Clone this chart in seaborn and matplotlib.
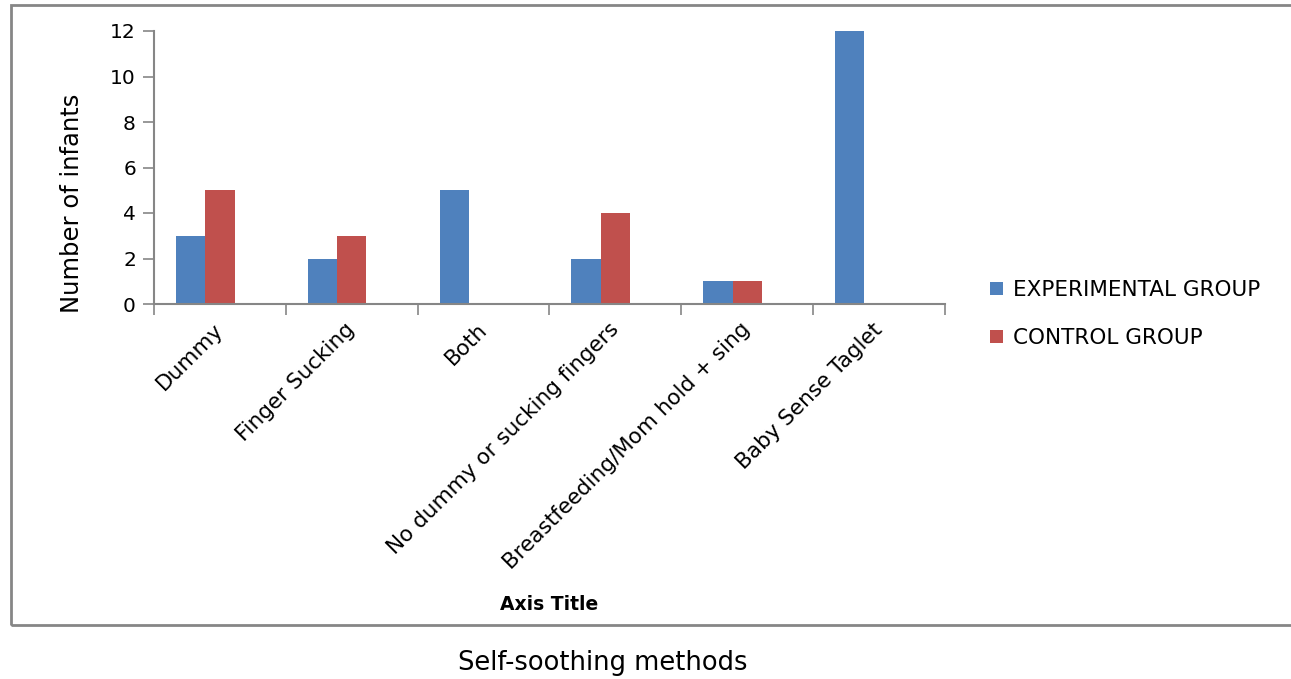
import numpy as np
import pandas as pd
import matplotlib
matplotlib.use("Agg")
import matplotlib.pyplot as plt
from matplotlib.patches import Patch, Rectangle
import seaborn as sns

categories = ["Dummy", "Finger Sucking", "Both", "No dummy or sucking fingers",
              "Breastfeeding/Mom hold + sing", "Baby Sense Taglet"]
experimental = [3, 2, 5, 2, 1, 12]
control = [5, 3, 0, 4, 1, 0]
series_names = ["EXPERIMENTAL GROUP", "CONTROL GROUP"]
y_ticks = [0, 2, 4, 6, 8, 10, 12]

blue = "#4F81BD"
red = "#C0504D"
axis_grey = "#868686"

sns.set_theme(style="white")
plt.rcParams["font.family"] = ["DejaVu Sans"]
plt.rcParams["text.color"] = "black"
plt.rcParams["xtick.color"] = "black"
plt.rcParams["ytick.color"] = "black"
plt.rcParams["axes.labelcolor"] = "black"

df = pd.DataFrame({
    "method": categories * 2,
    "group": [series_names[0]] * len(categories) + [series_names[1]] * len(categories),
    "count": experimental + control,
})

fig = plt.figure(figsize=(12.91, 6.79), dpi=100)
ax = fig.add_axes([154 / 1291, 1 - 304 / 679, (945 - 154) / 1291, (304 - 31) / 679])

# a third, empty slot keeps the Excel-style clustering (bars sit left of centre)
hue_order = series_names + ["Series3"]
sns.barplot(data=df, x="method", y="count", hue="group", order=categories,
            hue_order=hue_order, palette=[blue, red, "#9BBB59"], width=0.667,
            saturation=1, linewidth=0, legend=False, ax=ax)

n = len(categories)
ax.set_xlim(-0.5, n - 0.5)
ax.set_ylim(0, 12)
ax.set_yticks(y_ticks)
ax.set_yticklabels([str(v) for v in y_ticks], fontsize=14.5)

# tick marks at category boundaries, labels at centres
ax.set_xticks(np.arange(n + 1) - 0.5)
ax.set_xticklabels([])
ax.set_xticks(np.arange(n), minor=True)
ax.set_xticklabels(categories, minor=True, rotation=45, ha="right", va="center",
                   rotation_mode="anchor", fontsize=15.5)
ax.tick_params(axis="x", which="major", direction="out", length=8, width=1.2,
               color=axis_grey, bottom=True)
ax.tick_params(axis="x", which="minor", length=0, pad=16, bottom=True)
ax.tick_params(axis="y", direction="out", length=8, width=1.2, color=axis_grey,
               left=True, pad=5)

for side in ["top", "right"]:
    ax.spines[side].set_visible(False)
for side in ["left", "bottom"]:
    ax.spines[side].set_color(axis_grey)
    ax.spines[side].set_linewidth(1.5)

ax.set_xlabel("")
ax.set_ylabel("Number of infants", fontsize=17.5)
ax.yaxis.set_label_coords(-70 / 791, (304 - 203) / 273)

# chart border
fig.patches.append(Rectangle((11 / 1291, 1 - 625 / 679), 1.2, (625 - 5) / 679,
                             transform=fig.transFigure, fill=False,
                             edgecolor=axis_grey, linewidth=2))

fig.text(549 / 1291, 1 - 604 / 679, "Axis Title", fontsize=13.5, fontweight="bold",
         ha="center", va="center")
fig.text(603 / 1291, 1 - 663 / 679, "Self-soothing methods", fontsize=18.5,
         ha="center", va="center")

handles = [Patch(facecolor=blue, edgecolor="none"), Patch(facecolor=red, edgecolor="none")]
fig.legend(handles, series_names, loc="center left",
           bbox_to_anchor=(971 / 1291, 1 - 314 / 679), frameon=False,
           fontsize=15.5, handlelength=0.6, handleheight=0.6, handletextpad=0.45,
           labelspacing=1.3)

fig.savefig("out.png", dpi=100)
